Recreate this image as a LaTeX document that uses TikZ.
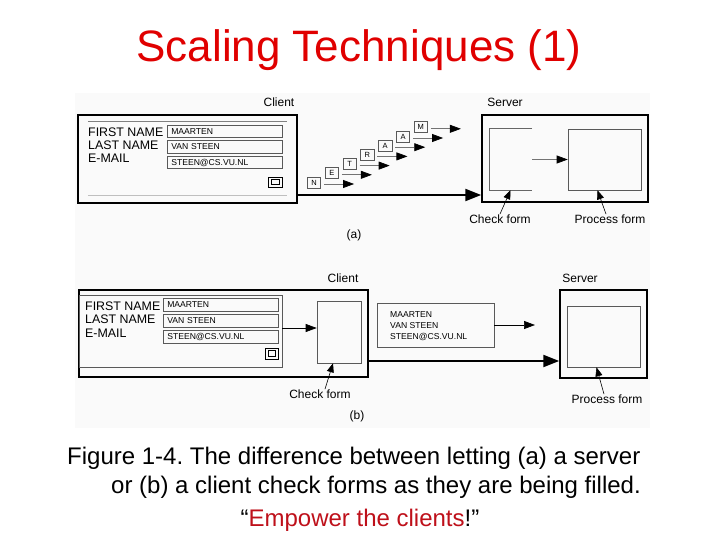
\documentclass[tikz,border=0pt]{standalone}
\usepackage{fontspec}
\setmainfont{Liberation Sans}
\usetikzlibrary{arrows.meta, calc}
\definecolor{titlered}{RGB}{224,0,0}
\definecolor{quotered}{RGB}{190,16,26}
\frenchspacing

\begin{document}
\begin{tikzpicture}[x=1pt, y=-1pt,
    box/.style={draw, rectangle, inner sep=0pt},
    outerbox/.style={box, line width=1.5pt},
    thinbox/.style={box, draw=black!65, line width=0.6pt},
    field/.style={thinbox, minimum width=115pt, minimum height=12.5pt, inner xsep=4pt,
        text width=107pt, align=left, font=\fontsize{8.6}{9}\selectfont},
    formlabel/.style={anchor=base west, inner sep=0pt, font=\fontsize{12.4}{13}\selectfont},
    lbl/.style={anchor=base, inner sep=0pt, font=\fontsize{12}{13}\selectfont},
    letter/.style={thinbox, minimum width=13.5pt, minimum height=11pt, font=\fontsize{7.5}{8}\selectfont},
    datatext/.style={anchor=base west, inner sep=0pt, font=\fontsize{8.6}{9}\selectfont},
    bigarrow/.style={line width=2.2pt, -{Triangle[length=16pt, width=12pt]}},
    smallarrow/.style={draw=black!55, line width=0.7pt, -{Triangle[length=11pt, width=8pt, fill=black, color=black]}},
    ptr/.style={line width=0.6pt, -{Triangle[length=9pt, width=7pt]}}]
    \useasboundingbox (0,0) rectangle (720,540);
    \fill[black!2] (75,93) rectangle (650,428);

    % title
    \node[anchor=base, inner sep=0pt, text=titlered, font=\fontsize{44}{48}\selectfont] (title) at (359,62) {Scaling Techniques (1)};

    % (a) client with form
    \node[outerbox, minimum width=219pt, minimum height=88pt] (cla) at (187.5,159) {};
    \node[lbl] (clat) at (279,107) {Client};
    \node[minimum width=199pt, minimum height=73pt, inner sep=0pt] (fa) at (187.5,158.5) {};
    \draw[black!50, line width=0.6pt] (fa.north west) -- (fa.north east);
    \draw[black!25, line width=0.6pt] (fa.south west) -- (fa.south east);
    \node[formlabel] (fna) at (88,137) {FIRST NAME};
    \node[formlabel] (lna) at (88,150) {LAST NAME};
    \node[formlabel] (ema) at (88,163) {E-MAIL};
    \node[field, anchor=west] (f1a) at (167,131.5) {MAARTEN};
    \node[field, anchor=west] (f2a) at (167,147) {VAN STEEN};
    \node[field, anchor=west] (f3a) at (167,162.5) {STEEN@CS.VU.NL};
    \node[box, line width=0.6pt, minimum width=14pt, minimum height=10pt] (bta) at (275,182) {};
    \node[box, line width=0.5pt, minimum width=8pt, minimum height=5.5pt] at (bta) {};

    % (a) server
    \node[outerbox, minimum width=166pt, minimum height=87pt] (sva) at (565,158.5) {};
    \node[lbl] (svat) at (505,107) {Server};
    \node[minimum width=43pt, minimum height=61pt, inner sep=0pt] (ck) at (510.5,159.5) {};
    \draw[black!60, line width=0.6pt] (ck.north east) -- (ck.north west) -- (ck.south west) -- (ck.south east);
    \node[thinbox, minimum width=73pt, minimum height=61pt] (pf) at (604.5,159.5) {};
    \draw[smallarrow] (ck.east) -- (pf.west);
    \node[lbl] (ckl) at (500,223) {Check form};
    \node[lbl] (pfl) at (610,223) {Process form};
    \draw[ptr] (ckl.north) -- (ck.south);
    \draw[ptr] ([xshift=-4pt]pfl.north) -- ([xshift=-7pt]pf.south);

    % (a) letters sent one by one
    \foreach \c [count=\i from 0] in {N,E,T,R,A,A,M}{
        \node[letter] (l\i) at ({314+17.8*\i},{182.5-9.2*\i}) {\c};
        \coordinate (t\i) at ($(l\i.east)+(33,1.5)$);
        \draw[smallarrow] ($(l\i.east)+(3,1.5)$) -- (t\i);
    }
    \coordinate (ya) at (0,195);
    \draw[bigarrow] (cla.east |- ya) -- (sva.west |- ya);
    \node[lbl] (capa) at (354,238) {(a)};

    % (b) client with form and check
    \node[outerbox, minimum width=289pt, minimum height=87pt] (clb) at (223.5,333.5) {};
    \node[lbl] (clbt) at (343,282) {Client};
    \node[thinbox, minimum width=203pt, minimum height=72pt] (fb) at (180.5,331) {};
    \node[formlabel] (fnb) at (85,310) {FIRST NAME};
    \node[formlabel] (lnb) at (85,323) {LAST NAME};
    \node[formlabel] (emb) at (85,337) {E-MAIL};
    \node[field, anchor=west] (f1b) at (163,305) {MAARTEN};
    \node[field, anchor=west] (f2b) at (163,321) {VAN STEEN};
    \node[field, anchor=west] (f3b) at (163,337) {STEEN@CS.VU.NL};
    \node[box, line width=0.6pt, minimum width=13pt, minimum height=11pt] (btb) at (271.5,353.5) {};
    \node[box, line width=0.5pt, minimum width=7pt, minimum height=6pt] at (btb) {};
    \node[thinbox, minimum width=44pt, minimum height=62pt] (cb) at (339,332) {};
    \coordinate (yb) at (0,328);
    \draw[ptr, line width=0.7pt, -{Triangle[length=11pt, width=8pt]}] (fb.east |- yb) -- (cb.west |- yb);
    \node[lbl] (cbl) at (320,398) {Check form};
    \draw[ptr] ([xshift=5pt]cbl.north) -- ([xshift=-6pt]cb.south);

    % (b) checked data and server
    \node[thinbox, minimum width=117pt, minimum height=44pt] (db) at (435.5,325) {};
    \node[datatext] (d1) at (390,317) {MAARTEN};
    \node[datatext] (d2) at (390,328) {VAN STEEN};
    \node[datatext] (d3) at (390,339) {STEEN@CS.VU.NL};
    \coordinate (dt) at (535,325);
    \draw[ptr, line width=0.7pt, -{Triangle[length=11pt, width=8pt]}] (db.east) -- (dt);
    \node[outerbox, minimum width=87pt, minimum height=88pt] (svb) at (603.5,334) {};
    \node[lbl] (svbt) at (580,282) {Server};
    \node[thinbox, minimum width=73pt, minimum height=61pt] (pb) at (603.5,336.5) {};
    \coordinate (yc) at (0,361);
    \draw[bigarrow] (clb.east |- yc) -- (svb.west |- yc);
    \node[lbl] (pbl) at (607,403) {Process form};
    \draw[ptr] ([xshift=-3pt]pbl.north) -- ([xshift=-7pt]pb.south);
    \node[lbl] (capb) at (357,419) {(b)};

    % caption
    \node[anchor=base west, inner sep=0pt, font=\fontsize{24}{28}\selectfont] (cap1) at (67,464) {Figure 1-4. The difference between letting (a) a server};
    \node[anchor=base east, inner sep=0pt, font=\fontsize{24}{28}\selectfont] (cap2) at (641,493) {or (b) a client check forms as they are being filled.};
    \node[anchor=base, inner sep=0pt, font=\fontsize{24}{28}\selectfont] (cap3) at (360,526) {“\textcolor{quotered}{Empower the clients}!”};
\end{tikzpicture}
\end{document}
